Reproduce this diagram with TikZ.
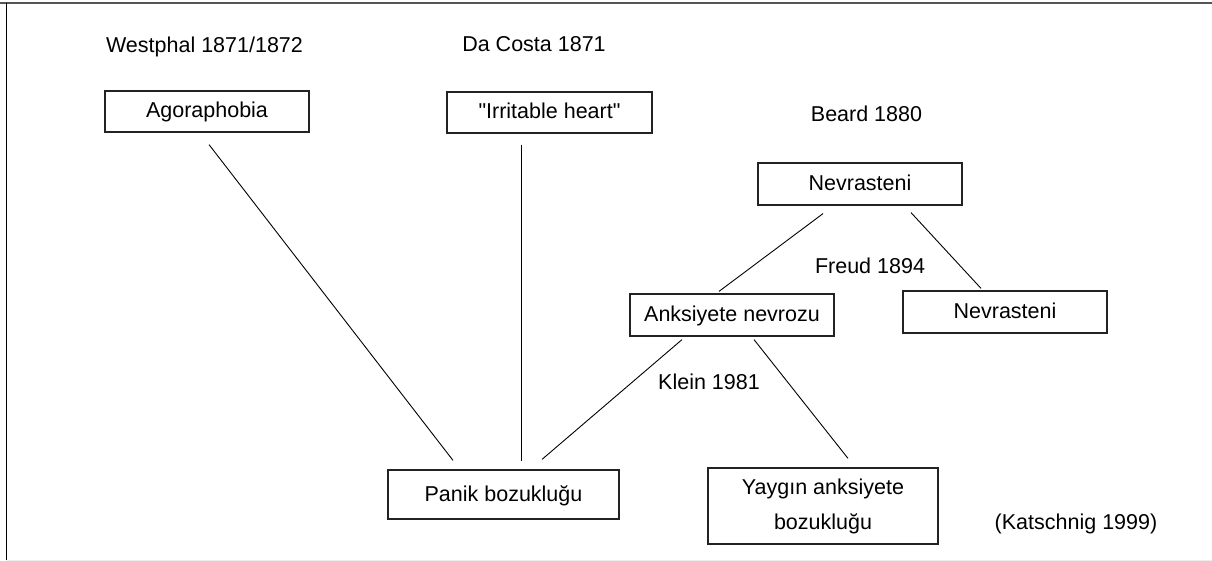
\documentclass[tikz,border=0pt]{standalone}
\usepackage{fontspec}
\setmainfont{Liberation Sans}
\usetikzlibrary{positioning}
\definecolor{framegray}{HTML}{555555}
\definecolor{boxgray}{HTML}{222222}
\tikzset{
	box/.style={draw=boxgray,line width=1.2pt,inner sep=0pt,minimum width=204pt,minimum height=41pt},
	single/.style={box,text height=16pt,text depth=3pt},
	yr/.style={anchor=base},
	link/.style={line width=0.9pt}
}

\begin{document}
\begin{tikzpicture}[x=1pt,y=-1pt,font=\fontsize{21.5}{35}\selectfont]
			\useasboundingbox (0,0) rectangle (1212,561);
			\coordinate (TL) at (0,3);
			\coordinate (TR) at (1212,3);
			\coordinate (LT) at (6.5,3);
			\coordinate (LB) at (6.5,560);
			\coordinate (BR) at (1212,560);

			\draw[framegray,line width=2pt] (TL)--(TR);
			\draw[black,line width=1.8pt] (LT)--(LB);
			\draw[black!7,line width=1pt] (LB)--(BR);

			\node[yr] (westphal) at (204.5,53) {Westphal 1871/1872};
			\node[yr] (dacosta) at (534,52) {Da Costa 1871};
			\node[yr] (beard) at (866.5,122) {Beard 1880};
			\node[yr] (freud) at (870,273) {Freud 1894};
			\node[yr] (klein) at (709,389) {Klein 1981};
			\node[yr] (katschnig) at (1076,529) {(Katschnig 1999)};

			\node[single] (agora) at (207,111.5) {Agoraphobia};
			\node[single,minimum width=205pt] (irrit) at (549.5,112.5) {\textquotedbl Irritable heart\textquotedbl};
			\node[single,minimum height=42pt] (nevra) at (860,184) {Nevrasteni};
			\node[single,minimum height=42pt] (anks) at (732,315) {Anksiyete nevrozu};
			\node[single,minimum height=42pt] (nevrb) at (1005,312) {Nevrasteni};
			\node[single,minimum width=231pt,minimum height=49pt] (panik) at (503.5,494.5) {Panik bozukluğu};
			\node[box,align=center,minimum width=230pt,minimum height=76pt] (yaygin) at (823,506) {Yaygın anksiyete\\bozukluğu};

			\draw[link] ([xshift=2pt,yshift=-12pt]agora.south)--([xshift=-50.5pt,yshift=9pt]panik.north);
			\draw[link] ([xshift=-28.5pt,yshift=-11pt]irrit.south)--([xshift=17.5pt,yshift=8pt]panik.north);
			\draw[link] ([xshift=-50pt,yshift=-3pt]anks.south)--([xshift=38.5pt,yshift=10pt]panik.north);
			\draw[link] ([xshift=22pt,yshift=-3pt]anks.south)--([xshift=25pt,yshift=9pt]yaygin.north);
			\draw[link] ([xshift=-37pt,yshift=-8pt]nevra.south)--([xshift=-13pt,yshift=2pt]anks.north);
			\draw[link] ([xshift=51pt,yshift=-7pt]nevra.south)--([xshift=-24pt,yshift=2pt]nevrb.north);
		\end{tikzpicture}
\end{document}
